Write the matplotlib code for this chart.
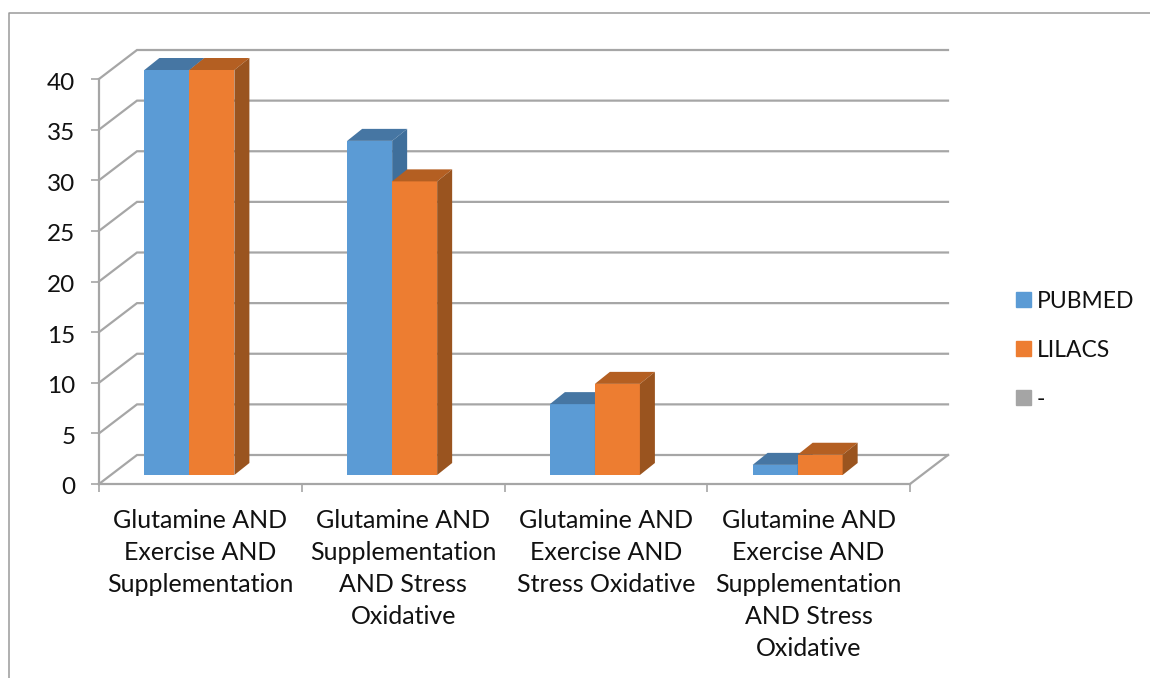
import matplotlib
matplotlib.use("Agg")
import matplotlib.pyplot as plt
from matplotlib.lines import Line2D
from matplotlib.patches import Patch, Polygon
from matplotlib.transforms import ScaledTranslation

plt.rcParams["font.family"] = ["Lato", "DejaVu Sans"]

categories = [
    "Glutamine AND\nExercise AND\nSupplementation",
    "Glutamine AND\nSupplementation\nAND Stress\nOxidative",
    "Glutamine AND\nExercise AND\nStress Oxidative",
    "Glutamine AND\nExercise AND\nSupplementation\nAND Stress\nOxidative",
]
pubmed = [40, 33, 7, 1]
lilacs = [40, 29, 9, 2]
y_ticks = [0, 5, 10, 15, 20, 25, 30, 35, 40]

W, H = 1150, 678
BLUE, BLUE_TOP, BLUE_SIDE = "#5B9BD5", "#4676A3", "#3F6F9B"
ORANGE, ORANGE_TOP, ORANGE_SIDE = "#ED7D31", "#B45F22", "#9A541F"
GRID = "#A6A6A6"

fig = plt.figure(figsize=(W / 100, H / 100), dpi=100)
ax = fig.add_axes([99 / W, 1 - 484 / H, 811 / W, 405 / H])
ax.set_xlim(0, 4)
ax.set_ylim(0, 40)

# pixel sizes expressed in data units
px_x = 4 / 811
px_y = 40 / 405


def draw_bar(left, width, value, front, top, side):
    base = 9 * px_y
    dx, dy = 15 * px_x, 12 * px_y
    right = left + width
    height = value
    ax.bar(left, height, width, bottom=base, align="edge", color=front, zorder=3, clip_on=False)
    ax.add_patch(Polygon(
        [(left, base + height), (left + dx, base + height + dy),
         (right + dx, base + height + dy), (right, base + height)],
        color=top, lw=0, zorder=3, clip_on=False))
    ax.add_patch(Polygon(
        [(right, base), (right + dx, base + dy),
         (right + dx, base + height + dy), (right, base + height)],
        color=side, lw=0, zorder=3, clip_on=False))


# back wall gridlines and the slanted lines joining them to the axis
wall_dx, wall_dy = 38 * px_x, 29 * px_y
for t in y_ticks:
    ax.plot([0, wall_dx, 4 + wall_dx], [t, t + wall_dy, t + wall_dy],
            color=GRID, lw=1.6, clip_on=False, zorder=1, solid_joinstyle="miter")
ax.plot([4, 4 + wall_dx], [0, wall_dy], color=GRID, lw=1.6, clip_on=False, zorder=1)

bar_w = 45 * px_x
for i in range(len(categories)):
    left = i + 45.4 * px_x
    draw_bar(left, bar_w, pubmed[i], BLUE, BLUE_TOP, BLUE_SIDE)
    draw_bar(left + bar_w, bar_w, lilacs[i], ORANGE, ORANGE_TOP, ORANGE_SIDE)

for name in ["top", "right"]:
    ax.spines[name].set_visible(False)
for name in ["left", "bottom"]:
    ax.spines[name].set_color(GRID)
    ax.spines[name].set_linewidth(1.6)
ax.patch.set_alpha(0)

ax.set_yticks(y_ticks)
ax.set_xticks([0, 1, 2, 3, 4], minor=True)
ax.set_xticks([0.5, 1.5, 2.5, 3.5])
ax.set_xticklabels(categories, linespacing=1.48)
ax.tick_params(axis="x", which="major", length=0, pad=18, labelsize=18, labelcolor="#111111")
ax.tick_params(axis="x", which="minor", length=5.5, width=1.2, color=GRID)
ax.tick_params(axis="y", length=5.5, width=1.2, color=GRID, pad=11.5, labelsize=17.5, labelcolor="#111111")

# y labels sit slightly below their ticks
shift = ScaledTranslation(0, -2 / 100, fig.dpi_scale_trans)
for label in ax.get_yticklabels():
    label.set_transform(label.get_transform() + shift)

handles = [Patch(color=BLUE), Patch(color=ORANGE), Patch(color="#A5A5A5")]
fig.legend(handles, ["PUBMED", "LILACS", "-"], loc="upper left",
           bbox_to_anchor=(995 / W, 1 - 270 / H), frameon=False, fontsize=16.5,
           handlelength=0.66, handleheight=0.66, handletextpad=0.27, labelspacing=1.22,
           labelcolor="#111111")

# outer chart frame, open on the right and bottom
fig.add_artist(Line2D([9 / W, 9 / W, 1], [0, 1 - 13 / H, 1 - 13 / H], color="#9A9A9A", lw=1.1))

fig.savefig("out.png", dpi=100)
